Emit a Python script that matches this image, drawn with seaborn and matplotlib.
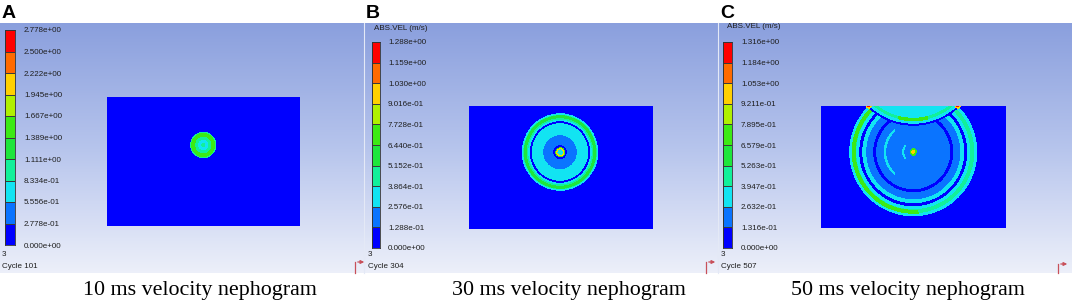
import numpy as np
import matplotlib
matplotlib.use("Agg")
import matplotlib.pyplot as plt
from matplotlib.colors import ListedColormap, LinearSegmentedColormap
import seaborn as sns

W, H = 1072, 307

# contour bins, lowest (0) to highest (9), as in the AUTODYN legend
level_colors = ["#0000ff", "#0a74ff", "#12e4f2", "#12f09a", "#1ee63c",
                "#3cea14", "#b0f000", "#ffd000", "#ff6a00", "#ff0000"]

panel_letters = ["A", "B", "C"]
captions = ["10 ms velocity nephogram", "30 ms velocity nephogram",
            "50 ms velocity nephogram"]
cycles = ["Cycle 101", "Cycle 304", "Cycle 507"]

cbar_labels_a = ["2.778e+00", "2.500e+00", "2.222e+00", "1.945e+00", "1.667e+00",
                 "1.389e+00", "1.111e+00", "8.334e-01", "5.556e-01", "2.778e-01",
                 "0.000e+00"]
cbar_labels_b = ["1.288e+00", "1.159e+00", "1.030e+00", "9.016e-01", "7.728e-01",
                 "6.440e-01", "5.152e-01", "3.864e-01", "2.576e-01", "1.288e-01",
                 "0.000e+00"]
cbar_labels_c = ["1.316e+00", "1.184e+00", "1.053e+00", "9.211e-01", "7.895e-01",
                 "6.579e-01", "5.263e-01", "3.947e-01", "2.632e-01", "1.316e-01",
                 "0.000e+00"]

# wave rings: outer radius (px) and bin inside it, outside-in
rings_a_r = [13, 12, 8, 5, 2]
rings_a_lv = [3, 5, 3, 2, 3]

rings_b_r = [38.5, 37, 36.5, 33.5, 32, 30.5, 28.5, 17, 7, 5, 4, 2.8]
rings_b_lv = [2, 3, 4, 3, 2, 0, 2, 1, 0, 5, 7, 2]

rings_c_r = [64, 61, 57, 54, 51, 47, 40, 37, 3.5, 2]
rings_c_lv = [2, 3, 2, 0, 2, 1, 0, 1, 5, 7]
# partial arcs in panel C: r_in, r_out, angle from, angle to (deg), bin
arcs_c = [(57.5, 61.5, 115, 275, 5), (27, 29.5, 130, 230, 2), (9, 11, 140, 220, 2)]
# reflected wave cap in panel C (mirror of the source above the free surface)
cap_c_r = [66, 64, 61, 58]
cap_c_lv = [0, 2, 3, 2]
cap_green_halfwidth = 15
surface_spots_c = [(47.5, 0), (136.5, 0)]

cmap = ListedColormap(level_colors)
bg_cmap = LinearSegmentedColormap.from_list("bg", ["#8a9fdd", "#b6c4ec", "#eceff9"])


def px_axes(fig, x, y, w, h):
    return fig.add_axes([x / W, 1 - (y + h) / H, w / W, h / H])


STEP = 0.5


def polar_grid(w, h, cx, cy):
    xs = np.arange(0, w, STEP) + STEP / 2
    ys = np.arange(0, h, STEP) + STEP / 2
    X, Y = np.meshgrid(xs, ys)
    dx, dy = X - cx, Y - cy
    R = np.hypot(dx, dy)
    T = np.degrees(np.arctan2(-dy, dx)) % 360
    return dx, dy, R, T


def paint_rings(field, R, radii, levels, mask=None):
    for r, lv in zip(radii, levels):
        sel = R < r
        if mask is not None:
            sel &= mask
        field[sel] = lv


fig = plt.figure(figsize=(W / 100, H / 100), dpi=100)

# panel backgrounds
bg = px_axes(fig, 0, 23, W, 250)
sns.heatmap(np.linspace(0, 1, 250)[:, None], cmap=bg_cmap, cbar=False,
            xticklabels=False, yticklabels=False, ax=bg)

# panel A field
w, h = 193, 129
dx, dy, R, T = polar_grid(w, h, 96, 48)
fa = np.zeros(R.shape)
paint_rings(fa, R, rings_a_r, rings_a_lv)
ax = px_axes(fig, 107, 97, w, h)
sns.heatmap(fa, cmap=cmap, vmin=-0.5, vmax=9.5, cbar=False,
            xticklabels=False, yticklabels=False, ax=ax)

# panel B field
w, h = 184, 123
dx, dy, R, T = polar_grid(w, h, 91, 46)
fb = np.zeros(R.shape)
paint_rings(fb, R, rings_b_r, rings_b_lv)
ax = px_axes(fig, 469, 106, w, h)
sns.heatmap(fb, cmap=cmap, vmin=-0.5, vmax=9.5, cbar=False,
            xticklabels=False, yticklabels=False, ax=ax)

# panel C field
w, h = 185, 122
dx, dy, R, T = polar_grid(w, h, 92, 46)
fc = np.zeros(R.shape)
paint_rings(fc, R, rings_c_r, rings_c_lv)
for r0, r1, t0, t1, lv in arcs_c:
    fc[(R >= r0) & (R < r1) & (T >= t0) & (T <= t1)] = lv
mdx, mdy, MR, MT = polar_grid(w, h, 92, -46)
inside = R < 64
paint_rings(fc, MR, cap_c_r, cap_c_lv, mask=inside)
fc[inside & (MR >= 58) & (MR < 61.5) & (np.abs(mdx) < cap_green_halfwidth)] = 5
for sx, sy in surface_spots_c:
    sr = np.hypot(dx + 92 - sx, dy + 46 - sy)
    fc[sr < 3] = 7
    fc[sr < 1.5] = 9
ax = px_axes(fig, 821, 106, w, h)
sns.heatmap(fc, cmap=cmap, vmin=-0.5, vmax=9.5, cbar=False,
            xticklabels=False, yticklabels=False, ax=ax)

# legends
bars = [(5, 30, 10, 215, 24, cbar_labels_a),
        (372, 42, 8, 206, 388, cbar_labels_b),
        (723, 42, 9, 206, 741, cbar_labels_c)]
for x, y, bw, bh, lx, labels in bars:
    cax = px_axes(fig, x, y, bw, bh)
    sns.heatmap(np.arange(9, -1, -1)[:, None], cmap=cmap, vmin=-0.5, vmax=9.5,
                cbar=False, linewidths=0.4, linecolor="#3a3a3a",
                xticklabels=False, yticklabels=False, ax=cax)
    for s in cax.spines.values():
        s.set_visible(True)
        s.set_linewidth(0.6)
        s.set_color("#333333")

# overlay for text and triads
ov = fig.add_axes([0, 0, 1, 1])
ov.set_xlim(0, W)
ov.set_ylim(H, 0)
ov.axis("off")

small = dict(family="Liberation Sans", fontsize=5.8, color="#1e1e1e", va="center")
for x, y, bw, bh, lx, labels in bars:
    for i, lab in enumerate(labels):
        ov.text(lx, y + i * bh / 10 + 1, lab, **small)

ov.text(374, 28, "ABS.VEL (m/s)", **small)
ov.text(727, 27, "ABS.VEL (m/s)", **small)

for x, cyc in zip([2, 368, 721], cycles):
    ov.text(x, 254, "3", **small)
    ov.text(x, 267, cyc, **small)

for x, letter in zip([2, 366, 720], panel_letters):
    ov.text(x, 13, letter, family="Liberation Sans", fontweight="bold",
            fontsize=14, va="center", ha="left")

for x, cap in zip([200, 569, 908], captions):
    ov.text(x, 291, cap, family="Liberation Serif", fontsize=15.8,
            ha="center", va="center")

for x in [364, 718]:
    ov.plot([x, x], [23, 273], color="#e4e9f6", lw=0.8)

for x, y in [(355, 262), (706, 262), (1058, 264)]:
    ov.plot([x, x], [273, y], color="#c8505a", lw=0.9)
    ov.annotate("", xy=(x + 12, y), xytext=(x, y),
                arrowprops=dict(arrowstyle="-|>", color="#c8505a", lw=0.9,
                                mutation_scale=5))

fig.savefig("out.png", dpi=100)
